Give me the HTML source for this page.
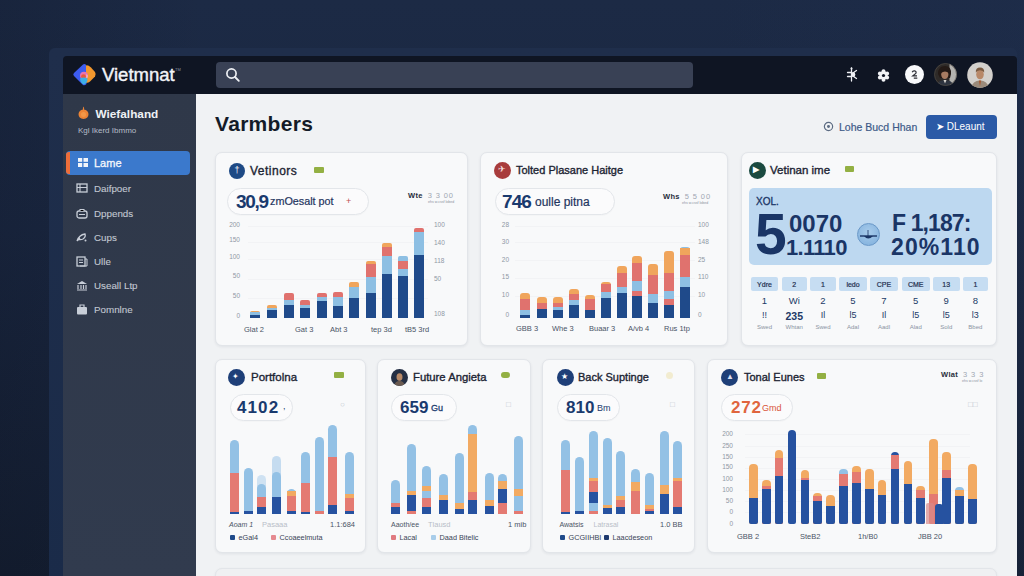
<!DOCTYPE html><html><head><meta charset="utf-8"><style>
*{margin:0;padding:0;box-sizing:border-box}
html,body{width:1024px;height:576px;overflow:hidden}
body{position:relative;font-family:"Liberation Sans",sans-serif;background:linear-gradient(180deg,#1c2a45 0%,#1a2741 40%,#141e31 100%)}
.a,.b,.t,.ic,.yl,.xl,.gl,.card,.pill{position:absolute}
.t{white-space:nowrap;line-height:1}
.card{background:#f8f9fa;border:1px solid #e2e5e9;border-radius:7px;box-shadow:0 1px 3px rgba(20,30,50,.07)}
.pill{border:1px solid #e3e6ea;border-radius:14px;background:#fbfbfc;box-shadow:0 1px 1px rgba(0,0,0,.02)}
.ic{border-radius:50%}
.yl{font-size:6.5px;color:#8f98a5;white-space:nowrap;line-height:1}
.xl{font-size:7.5px;color:#4a5466;white-space:nowrap;line-height:1}
.gl{height:1px;background:#f2f3f5}
.ttl{font-size:11.5px;color:#1c2433;-webkit-text-stroke:.35px #1c2433}
.sm{font-size:7.5px;color:#262d3a;font-weight:bold;letter-spacing:.3px}
.sm span{font-weight:normal;color:#a0a7b2;letter-spacing:.9px;margin-left:5px}
.sub{position:absolute;font-size:3.6px;color:#8a929e;white-space:nowrap;line-height:1}
</style></head><body>
<div class="a" style="left:0;top:0;width:1024px;height:576px;background:linear-gradient(90deg,rgba(10,15,28,.2) 0%,rgba(0,0,0,0) 20%,rgba(0,0,0,0) 70%,rgba(40,60,100,.12) 100%)"></div>
<div class="a" style="left:49px;top:48px;width:968px;height:540px;background:linear-gradient(180deg,#1f2e4b 0%,#1a2b49 100%);border-radius:6px 6px 0 0"></div>
<div class="a" style="left:63px;top:56px;width:954px;height:38px;background:#0f1523;border-radius:4px 4px 0 0"></div>
<div class="a" style="left:63px;top:94px;width:133px;height:482px;background:linear-gradient(180deg,#2f3849 0%,#313b4e 100%)"></div>
<div class="a" style="left:196px;top:94px;width:821px;height:482px;background:#f0f2f4"></div>
<svg class="a" style="left:68px;top:60px" width="32" height="30" viewBox="0 0 32 30">
<defs><filter id="bl" x="-20%" y="-20%" width="140%" height="140%"><feGaussianBlur stdDeviation=".5"/></filter></defs>
<g filter="url(#bl)">
<g transform="rotate(45 15 74.5) translate(0 0)"></g>
<path d="M15 4.5 Q16.5 3.5 18 4.8 L18.5 24 Q16.5 26 15 25 L6 16 Q4.5 14.5 6 13 Z" fill="#3d5cf0"/>
<path d="M18 5.5 Q20 4.8 23 7.5 L27 12 Q28.5 14.5 27 16.5 L22 21.5 Q19.5 23.5 18 22.5 Z" fill="#f3982e"/>
<ellipse cx="16" cy="15.5" rx="4" ry="3.8" fill="#e873b0"/>
<ellipse cx="15.5" cy="16.5" rx="2.4" ry="2.2" fill="#e85a3a"/>
<path d="M12 18.5 Q15.5 16.5 19.5 18.5 Q19.5 23 16 24.5 Q12.5 23.5 12 18.5Z" fill="#3cb0e6"/>
<path d="M18.5 14 Q20 15 19.5 17.5 L18.5 18Z" fill="#f5e0c8"/>
</g></svg>
<div class="t" style="left:102px;top:66px;font-size:18.5px;color:#f2f4f8;-webkit-text-stroke:.4px #f2f4f8">Vietmnat</div>
<div class="t" style="left:175px;top:68px;font-size:4px;color:#8a93a3">TM</div>
<div class="a" style="left:216px;top:62px;width:477px;height:26px;background:#394155;border-radius:4px"></div>
<svg class="a" style="left:225px;top:67px" width="16" height="16" viewBox="0 0 16 16"><circle cx="6.5" cy="6.5" r="4.6" fill="none" stroke="#eef0f4" stroke-width="1.7"/><path d="M10 10 L13.8 13.8" stroke="#eef0f4" stroke-width="1.9" stroke-linecap="round"/></svg>
<svg class="a" style="left:845px;top:67px" width="14" height="15" viewBox="0 0 14 15">
<path d="M6.5 1V14M2.5 5.5H6.5M2.5 9.5H6.5M6.5 7L11.5 3.5M6.5 8L11.5 11.5" stroke="#eef0f4" stroke-width="1.3" stroke-linecap="round"/>
<ellipse cx="8.3" cy="7.5" rx="2" ry="2.6" fill="#eef0f4"/><circle cx="6.5" cy="1.5" r="1" fill="#eef0f4"/></svg>
<svg class="a" style="left:876.5px;top:68.5px" width="13" height="13" viewBox="0 0 13 13"><g fill="#f2f3f6">
<circle cx="6.5" cy="6.5" r="4"/><circle cx="6.5" cy="2.3" r="2"/><circle cx="6.5" cy="10.7" r="2"/><circle cx="2.9" cy="4.4" r="2"/><circle cx="10.1" cy="4.4" r="2"/><circle cx="2.9" cy="8.6" r="2"/><circle cx="10.1" cy="8.6" r="2"/></g>
<circle cx="6.5" cy="6.5" r="1.6" fill="#0f1523"/></svg>
<div class="ic" style="left:905px;top:65px;width:19px;height:19px;background:#f8f9fb"></div>
<svg class="a" style="left:909px;top:69px" width="11" height="11" viewBox="0 0 11 11"><path d="M3.2 3.3Q3.8 1.6 5.6 1.9Q7.8 2.3 6.8 4.4L3.8 6.8H8M4.8 9.2H8.3" fill="none" stroke="#2a2d35" stroke-width="1.2"/></svg>
<svg class="a" style="left:934px;top:63px" width="23" height="23" viewBox="0 0 23 23">
<defs><clipPath id="c1"><circle cx="11.5" cy="11.5" r="11.2"/></clipPath></defs>
<g clip-path="url(#c1)"><rect width="23" height="23" fill="#2e2a28"/><rect x="15.5" width="8" height="23" fill="#b4b3b0"/>
<path d="M4 11 Q4 3 11 3 Q17.5 3 17 11 L16 15 L6 15 Z" fill="#241a16"/>
<ellipse cx="10.8" cy="11.5" rx="3.6" ry="4.6" fill="#a87c62"/>
<path d="M6.5 9 Q8.5 4.5 15 7.5 L15 10 Q11 7 7 10 Z" fill="#241a16"/>
<path d="M2 23 Q4 17 11 17 Q18 17 20 23 Z" fill="#2e3440"/><path d="M9.5 17 L11 20.5 L12.5 17Z" fill="#d8d4cf"/></g>
<circle cx="11.5" cy="11.5" r="11" fill="none" stroke="#55504b" stroke-width=".6"/></svg>
<svg class="a" style="left:967px;top:62px" width="26" height="26" viewBox="0 0 26 26">
<defs><clipPath id="c2"><circle cx="13" cy="13" r="12.8"/></clipPath></defs>
<g clip-path="url(#c2)"><rect width="26" height="26" fill="#d3d0cc"/>
<ellipse cx="13" cy="12.5" rx="3.8" ry="4.8" fill="#b88868"/>
<path d="M8.8 10.5 Q8.5 5.5 13 5.5 Q17.5 5.5 17.2 10.5 Q16 8.5 13 8.3 Q10 8.5 8.8 10.5Z" fill="#7a5a40"/>
<path d="M4 26 Q5.5 18.8 13 18.5 Q20.5 18.8 22 26 Z" fill="#9a8a7a"/><path d="M11.8 18.5 L13 24 L14.2 18.5Z" fill="#a85a30"/></g></svg>
<svg class="a" style="left:77px;top:105px" width="13" height="15" viewBox="0 0 13 15"><path d="M6.5 1.5 Q7.5 3 7 4.5 Q11 5 11.5 9 Q11.5 13.5 6.5 14 Q1.5 13.5 1.5 9 Q2 5 6 4.5 Q5.5 3 6.5 1.5Z" fill="#ec8436"/><circle cx="6.5" cy="9.5" r="2.5" fill="#f5a050" opacity=".7"/></svg>
<div class="t" style="left:95.5px;top:109px;font-size:11.8px;font-weight:bold;color:#eef1f5">Wiefalhand</div>
<div class="t" style="left:78px;top:127px;font-size:8px;color:#b4bcc8">Kgl Ikerd Ibmmo</div>
<div class="a" style="left:66px;top:151px;width:124px;height:24px;background:#3b79cc;border-radius:4px"></div>
<div class="a" style="left:66px;top:152px;width:4px;height:22px;background:#ee6e3a;border-radius:3px 0 0 3px"></div>
<svg class="a" style="left:78px;top:158px" width="10" height="9" viewBox="0 0 10 9"><rect x="0" y="0" width="4.2" height="3.8" fill="#f2f5fa"/><rect x="5.5" y="0" width="4.5" height="3.8" fill="#f2f5fa"/><rect x="0" y="5" width="4.2" height="4" fill="#f2f5fa"/><rect x="5.5" y="5" width="4.5" height="4" fill="#f2f5fa"/></svg>
<div class="t" style="left:94px;top:158px;font-size:11px;color:#f5f8fc;-webkit-text-stroke:.3px #f5f8fc">Lame</div>
<svg class="a" style="left:76px;top:183px" width="12" height="11" viewBox="0 0 12 11"><rect x="1" y="1" width="10" height="8" fill="none" stroke="#c8ced8" stroke-width="1.3"/><path d="M1 4.5H11M4 1V9" stroke="#c8ced8" stroke-width="1.1"/></svg>
<div class="t" style="left:94px;top:183.5px;font-size:9.8px;color:#c2c8d2;-webkit-text-stroke:.1px #c2c8d2">Daifpoer</div>
<svg class="a" style="left:76px;top:208px" width="12" height="11" viewBox="0 0 12 11"><rect x="1" y="3" width="10" height="7" rx="2" fill="none" stroke="#c8ced8" stroke-width="1.3"/><path d="M4 3V1.5H8V3M3 6.5H9" stroke="#c8ced8" stroke-width="1.1"/></svg>
<div class="t" style="left:94px;top:208.5px;font-size:9.8px;color:#c2c8d2;-webkit-text-stroke:.1px #c2c8d2">Dppends</div>
<svg class="a" style="left:76px;top:232px" width="12" height="11" viewBox="0 0 12 11"><path d="M1 9 Q3 3 9 2 Q10 5 7 7 Q5 8 3 7.5M1 9 L4 6" fill="none" stroke="#c8ced8" stroke-width="1.3"/><circle cx="9.5" cy="8.5" r="1" fill="#c8ced8"/></svg>
<div class="t" style="left:94px;top:232.5px;font-size:9.8px;color:#c2c8d2;-webkit-text-stroke:.1px #c2c8d2">Cups</div>
<svg class="a" style="left:76px;top:256px" width="12" height="11" viewBox="0 0 12 11"><rect x="1" y="1" width="8" height="9" fill="none" stroke="#c8ced8" stroke-width="1.3"/><path d="M3 4H7M3 6.5H7M9 3H11V10H4" fill="none" stroke="#c8ced8" stroke-width="1"/></svg>
<div class="t" style="left:94px;top:256.5px;font-size:9.8px;color:#c2c8d2;-webkit-text-stroke:.1px #c2c8d2">Ulle</div>
<svg class="a" style="left:76px;top:280px" width="12" height="11" viewBox="0 0 12 11"><path d="M1 4 L6 1 L11 4 Z" fill="#c8ced8"/><path d="M2 5V9M5 5V9M7.5 5V9M10 5V9M1 10H11" stroke="#c8ced8" stroke-width="1.2"/></svg>
<div class="t" style="left:94px;top:280.5px;font-size:9.8px;color:#c2c8d2;-webkit-text-stroke:.1px #c2c8d2">Useall Ltp</div>
<svg class="a" style="left:76px;top:304px" width="12" height="11" viewBox="0 0 12 11"><rect x="1" y="3" width="10" height="7.5" rx="1" fill="#c8ced8"/><path d="M4 3V1H8V3" fill="none" stroke="#c8ced8" stroke-width="1.2"/></svg>
<div class="t" style="left:94px;top:304.5px;font-size:9.8px;color:#c2c8d2;-webkit-text-stroke:.1px #c2c8d2">Pomnlne</div>
<div class="t" style="left:215px;top:113px;font-size:21px;font-weight:bold;color:#141b28;letter-spacing:.3px">Varmbers</div>
<svg class="a" style="left:823px;top:121px" width="11" height="11" viewBox="0 0 12 12"><circle cx="6" cy="6" r="4.5" fill="none" stroke="#5b6b82" stroke-width="1.3"/><circle cx="6" cy="6" r="1.6" fill="#5b6b82"/></svg>
<div class="t" style="left:839px;top:122px;font-size:10.5px;color:#3d5a88;-webkit-text-stroke:.2px #3d5a88">Lohe Bucd Hhan</div>
<div class="a" style="left:926px;top:115px;width:71px;height:24px;background:#2b5aa6;border-radius:4px"></div>
<div class="t" style="left:936px;top:122px;font-size:10px;color:#fff">&#x27a4; DLeaunt</div>
<div class="card" style="left:214.75px;top:151.7px;width:252.75px;height:194px"></div>
<div class="ic" style="left:229px;top:163px;width:16px;height:16px;background:#1e4a85"></div>
<div class="t" style="left:234.5px;top:166px;font-size:9px;color:#fff">&#x2020;</div>
<div class="t ttl" style="left:250px;top:165px;font-size:12px;letter-spacing:.5px">Vetinors</div>
<div class="a" style="left:314px;top:167px;width:10px;height:6px;background:#93b043;border-radius:1px"></div>
<div class="pill" style="left:227px;top:188px;width:142px;height:27px"></div>
<div class="t" style="left:236px;top:191.5px;font-size:19px;font-weight:bold;color:#1a3a6e;letter-spacing:-1.3px">30,9</div>
<div class="t" style="left:270px;top:196px;font-size:10.8px;color:#1f3560;-webkit-text-stroke:.2px #1f3560">zmOesalt pot</div>
<div class="t" style="left:346px;top:197px;font-size:9px;color:#c05050">+</div>
<div class="t sm" style="left:408px;top:192px">Wte<span>3 3 00</span></div>
<div class="sub" style="left:428px;top:200.5px">ehs w.cssf lobed</div>
<div class="gl" style="left:248px;top:226px;width:180px"></div>
<div class="gl" style="left:248px;top:242px;width:180px"></div>
<div class="gl" style="left:248px;top:259px;width:180px"></div>
<div class="gl" style="left:248px;top:279px;width:180px"></div>
<div class="gl" style="left:248px;top:298px;width:180px"></div>
<div class="yl" style="left:226px;width:14px;text-align:right;top:222px">200</div>
<div class="yl" style="left:226px;width:14px;text-align:right;top:237px">150</div>
<div class="yl" style="left:226px;width:14px;text-align:right;top:254px">100</div>
<div class="yl" style="left:226px;width:14px;text-align:right;top:273px">50</div>
<div class="yl" style="left:226px;width:14px;text-align:right;top:292.5px">50</div>
<div class="yl" style="left:226px;width:14px;text-align:right;top:313px">0</div>
<div class="yl" style="left:434px;top:222px">100</div>
<div class="yl" style="left:434px;top:240px">140</div>
<div class="yl" style="left:434px;top:258px">118</div>
<div class="yl" style="left:434px;top:276px">50</div>
<div class="yl" style="left:434px;top:311px">108</div>
<div class="b" style="left:250px;bottom:258.0px;width:10px;height:7.5px;background:#f0a55c;border-radius:2px 2px 0px 0px;"></div><div class="b" style="left:250px;bottom:258.0px;width:10px;height:6.5px;background:#8dbfe3;border-radius:0 0 0px 0px;"></div><div class="b" style="left:250px;bottom:258.0px;width:10px;height:3.0px;background:#1f4a8a;border-radius:0 0 0px 0px;"></div>
<div class="b" style="left:267px;bottom:258.0px;width:10px;height:13.5px;background:#f0a55c;border-radius:2px 2px 0px 0px;"></div><div class="b" style="left:267px;bottom:258.0px;width:10px;height:10.5px;background:#8dbfe3;border-radius:0 0 0px 0px;"></div><div class="b" style="left:267px;bottom:258.0px;width:10px;height:8.5px;background:#1f4a8a;border-radius:0 0 0px 0px;"></div>
<div class="b" style="left:283.5px;bottom:258.0px;width:10px;height:25.0px;background:#e0726e;border-radius:2px 2px 0px 0px;"></div><div class="b" style="left:283.5px;bottom:258.0px;width:10px;height:18.5px;background:#8dbfe3;border-radius:0 0 0px 0px;"></div><div class="b" style="left:283.5px;bottom:258.0px;width:10px;height:13.0px;background:#1f4a8a;border-radius:0 0 0px 0px;"></div>
<div class="b" style="left:300px;bottom:258.0px;width:10px;height:18.0px;background:#e0726e;border-radius:2px 2px 0px 0px;"></div><div class="b" style="left:300px;bottom:258.0px;width:10px;height:13.5px;background:#8dbfe3;border-radius:0 0 0px 0px;"></div><div class="b" style="left:300px;bottom:258.0px;width:10px;height:10.0px;background:#1f4a8a;border-radius:0 0 0px 0px;"></div>
<div class="b" style="left:316.5px;bottom:258.0px;width:10px;height:25.5px;background:#e0726e;border-radius:2px 2px 0px 0px;"></div><div class="b" style="left:316.5px;bottom:258.0px;width:10px;height:21.0px;background:#8dbfe3;border-radius:0 0 0px 0px;"></div><div class="b" style="left:316.5px;bottom:258.0px;width:10px;height:17.0px;background:#1f4a8a;border-radius:0 0 0px 0px;"></div>
<div class="b" style="left:333px;bottom:258.0px;width:10px;height:26.5px;background:#e0726e;border-radius:2px 2px 0px 0px;"></div><div class="b" style="left:333px;bottom:258.0px;width:10px;height:21.0px;background:#8dbfe3;border-radius:0 0 0px 0px;"></div><div class="b" style="left:333px;bottom:258.0px;width:10px;height:12.5px;background:#1f4a8a;border-radius:0 0 0px 0px;"></div>
<div class="b" style="left:349px;bottom:258.0px;width:10px;height:36.5px;background:#f0a55c;border-radius:2px 2px 0px 0px;"></div><div class="b" style="left:349px;bottom:258.0px;width:10px;height:31.0px;background:#8dbfe3;border-radius:0 0 0px 0px;"></div><div class="b" style="left:349px;bottom:258.0px;width:10px;height:20.5px;background:#1f4a8a;border-radius:0 0 0px 0px;"></div>
<div class="b" style="left:365.5px;bottom:258.0px;width:10px;height:57.0px;background:#f0a55c;border-radius:2px 2px 0px 0px;"></div><div class="b" style="left:365.5px;bottom:258.0px;width:10px;height:54.2px;background:#e0726e;border-radius:0 0 0px 0px;"></div><div class="b" style="left:365.5px;bottom:258.0px;width:10px;height:41.0px;background:#8dbfe3;border-radius:0 0 0px 0px;"></div><div class="b" style="left:365.5px;bottom:258.0px;width:10px;height:25.0px;background:#1f4a8a;border-radius:0 0 0px 0px;"></div>
<div class="b" style="left:381.5px;bottom:258.0px;width:10px;height:75.5px;background:#f0a55c;border-radius:2px 2px 0px 0px;"></div><div class="b" style="left:381.5px;bottom:258.0px;width:10px;height:71.0px;background:#e0726e;border-radius:0 0 0px 0px;"></div><div class="b" style="left:381.5px;bottom:258.0px;width:10px;height:62.5px;background:#8dbfe3;border-radius:0 0 0px 0px;"></div><div class="b" style="left:381.5px;bottom:258.0px;width:10px;height:44.2px;background:#1f4a8a;border-radius:0 0 0px 0px;"></div>
<div class="b" style="left:397.75px;bottom:258.0px;width:10px;height:62.2px;background:#8dbfe3;border-radius:2px 2px 0px 0px;"></div><div class="b" style="left:397.75px;bottom:258.0px;width:10px;height:57.0px;background:#e0726e;border-radius:0 0 0px 0px;"></div><div class="b" style="left:397.75px;bottom:258.0px;width:10px;height:49.2px;background:#8dbfe3;border-radius:0 0 0px 0px;"></div><div class="b" style="left:397.75px;bottom:258.0px;width:10px;height:42.0px;background:#1f4a8a;border-radius:0 0 0px 0px;"></div>
<div class="b" style="left:414px;bottom:258.0px;width:10px;height:90.0px;background:#e0726e;border-radius:2px 2px 0px 0px;"></div><div class="b" style="left:414px;bottom:258.0px;width:10px;height:86.0px;background:#8dbfe3;border-radius:0 0 0px 0px;"></div><div class="b" style="left:414px;bottom:258.0px;width:10px;height:63.0px;background:#1f4a8a;border-radius:0 0 0px 0px;"></div>
<div class="xl" style="left:244px;top:326px">Glat 2</div>
<div class="xl" style="left:295px;top:326px">Gat 3</div>
<div class="xl" style="left:330px;top:326px">Abt 3</div>
<div class="xl" style="left:371px;top:326px">tep 3d</div>
<div class="xl" style="left:405px;top:326px">tB5 3rd</div>
<div class="card" style="left:480.3px;top:152px;width:247.7px;height:194px"></div>
<div class="ic" style="left:494px;top:162px;width:17px;height:17px;background:#a83c3c"></div>
<div class="t" style="left:498px;top:165px;font-size:9px;color:#f4dede">&#x2708;</div>
<div class="t ttl" style="left:516px;top:165px;font-size:11px">Tolted Plasane Haitge</div>
<div class="pill" style="left:495px;top:188px;width:120px;height:27px"></div>
<div class="t" style="left:502px;top:192px;font-size:19px;font-weight:bold;color:#1a3a6e;letter-spacing:-.9px">746</div>
<div class="t" style="left:535px;top:196px;font-size:12px;color:#1f3560;-webkit-text-stroke:.2px #1f3560">oulle pitna</div>
<div class="t sm" style="left:663px;top:193px">Whs<span>5 5 00</span></div>
<div class="sub" style="left:682px;top:201.5px">ehs w.cssf lobed</div>
<div class="gl" style="left:515px;top:226px;width:180px"></div>
<div class="gl" style="left:515px;top:242px;width:180px"></div>
<div class="gl" style="left:515px;top:260px;width:180px"></div>
<div class="gl" style="left:515px;top:278px;width:180px"></div>
<div class="gl" style="left:515px;top:296px;width:180px"></div>
<div class="yl" style="left:495px;width:14px;text-align:right;top:222px">28</div>
<div class="yl" style="left:495px;width:14px;text-align:right;top:239px">30</div>
<div class="yl" style="left:495px;width:14px;text-align:right;top:256.5px">20</div>
<div class="yl" style="left:495px;width:14px;text-align:right;top:274px">15</div>
<div class="yl" style="left:495px;width:14px;text-align:right;top:292px">10</div>
<div class="yl" style="left:495px;width:14px;text-align:right;top:312px">0</div>
<div class="yl" style="left:698px;top:222px">100</div>
<div class="yl" style="left:698px;top:239px">148</div>
<div class="yl" style="left:698px;top:256.5px">25</div>
<div class="yl" style="left:698px;top:274px">110</div>
<div class="yl" style="left:698px;top:292px">10</div>
<div class="yl" style="left:698px;top:312px">0</div>
<div class="b" style="left:520px;bottom:258.5px;width:10px;height:24.9px;background:#f0a55c;border-radius:3px 3px 0px 0px;"></div><div class="b" style="left:520px;bottom:258.5px;width:10px;height:18.8px;background:#e0726e;border-radius:0 0 0px 0px;"></div><div class="b" style="left:520px;bottom:258.5px;width:10px;height:7.1px;background:#8dbfe3;border-radius:0 0 0px 0px;"></div><div class="b" style="left:520px;bottom:258.5px;width:10px;height:2.5px;background:#1f4a8a;border-radius:0 0 0px 0px;"></div>
<div class="b" style="left:536.5px;bottom:258.5px;width:10px;height:20.3px;background:#f0a55c;border-radius:3px 3px 0px 0px;"></div><div class="b" style="left:536.5px;bottom:258.5px;width:10px;height:14.2px;background:#e0726e;border-radius:0 0 0px 0px;"></div><div class="b" style="left:536.5px;bottom:258.5px;width:10px;height:8.9px;background:#1f4a8a;border-radius:0 0 0px 0px;"></div>
<div class="b" style="left:552.8px;bottom:258.5px;width:10px;height:20.3px;background:#f0a55c;border-radius:3px 3px 0px 0px;"></div><div class="b" style="left:552.8px;bottom:258.5px;width:10px;height:14.2px;background:#e0726e;border-radius:0 0 0px 0px;"></div><div class="b" style="left:552.8px;bottom:258.5px;width:10px;height:10.7px;background:#8dbfe3;border-radius:0 0 0px 0px;"></div><div class="b" style="left:552.8px;bottom:258.5px;width:10px;height:7.1px;background:#1f4a8a;border-radius:0 0 0px 0px;"></div>
<div class="b" style="left:569.2px;bottom:258.5px;width:10px;height:28.4px;background:#f0a55c;border-radius:3px 3px 0px 0px;"></div><div class="b" style="left:569.2px;bottom:258.5px;width:10px;height:23.1px;background:#e0726e;border-radius:0 0 0px 0px;"></div><div class="b" style="left:569.2px;bottom:258.5px;width:10px;height:17.8px;background:#8dbfe3;border-radius:0 0 0px 0px;"></div><div class="b" style="left:569.2px;bottom:258.5px;width:10px;height:12.4px;background:#1f4a8a;border-radius:0 0 0px 0px;"></div>
<div class="b" style="left:584.8px;bottom:258.5px;width:10px;height:22.4px;background:#f0a55c;border-radius:3px 3px 0px 0px;"></div><div class="b" style="left:584.8px;bottom:258.5px;width:10px;height:18.8px;background:#e0726e;border-radius:0 0 0px 0px;"></div><div class="b" style="left:584.8px;bottom:258.5px;width:10px;height:7.8px;background:#1f4a8a;border-radius:0 0 0px 0px;"></div>
<div class="b" style="left:600.5px;bottom:258.5px;width:10px;height:35.6px;background:#f0a55c;border-radius:3px 3px 0px 0px;"></div><div class="b" style="left:600.5px;bottom:258.5px;width:10px;height:33.1px;background:#e0726e;border-radius:0 0 0px 0px;"></div><div class="b" style="left:600.5px;bottom:258.5px;width:10px;height:26.0px;background:#8dbfe3;border-radius:0 0 0px 0px;"></div><div class="b" style="left:600.5px;bottom:258.5px;width:10px;height:19.6px;background:#1f4a8a;border-radius:0 0 0px 0px;"></div>
<div class="b" style="left:616.5px;bottom:258.5px;width:10px;height:51.6px;background:#f0a55c;border-radius:3px 3px 0px 0px;"></div><div class="b" style="left:616.5px;bottom:258.5px;width:10px;height:44.5px;background:#e0726e;border-radius:0 0 0px 0px;"></div><div class="b" style="left:616.5px;bottom:258.5px;width:10px;height:30.9px;background:#8dbfe3;border-radius:0 0 0px 0px;"></div><div class="b" style="left:616.5px;bottom:258.5px;width:10px;height:24.9px;background:#1f4a8a;border-radius:0 0 0px 0px;"></div>
<div class="b" style="left:631.8px;bottom:258.5px;width:10px;height:61.5px;background:#f0a55c;border-radius:3px 3px 0px 0px;"></div><div class="b" style="left:631.8px;bottom:258.5px;width:10px;height:54.1px;background:#e0726e;border-radius:0 0 0px 0px;"></div><div class="b" style="left:631.8px;bottom:258.5px;width:10px;height:36.6px;background:#8dbfe3;border-radius:0 0 0px 0px;"></div><div class="b" style="left:631.8px;bottom:258.5px;width:10px;height:26.7px;background:#e0726e;border-radius:0 0 0px 0px;"></div><div class="b" style="left:631.8px;bottom:258.5px;width:10px;height:21.3px;background:#1f4a8a;border-radius:0 0 0px 0px;"></div>
<div class="b" style="left:647.8px;bottom:258.5px;width:10px;height:53.3px;background:#f0a55c;border-radius:3px 3px 0px 0px;"></div><div class="b" style="left:647.8px;bottom:258.5px;width:10px;height:42.7px;background:#e0726e;border-radius:0 0 0px 0px;"></div><div class="b" style="left:647.8px;bottom:258.5px;width:10px;height:23.1px;background:#8dbfe3;border-radius:0 0 0px 0px;"></div><div class="b" style="left:647.8px;bottom:258.5px;width:10px;height:14.9px;background:#1f4a8a;border-radius:0 0 0px 0px;"></div>
<div class="b" style="left:663.8px;bottom:258.5px;width:10px;height:66.5px;background:#f0a55c;border-radius:3px 3px 0px 0px;"></div><div class="b" style="left:663.8px;bottom:258.5px;width:10px;height:44.5px;background:#e0726e;border-radius:0 0 0px 0px;"></div><div class="b" style="left:663.8px;bottom:258.5px;width:10px;height:26.7px;background:#8dbfe3;border-radius:0 0 0px 0px;"></div><div class="b" style="left:663.8px;bottom:258.5px;width:10px;height:18.8px;background:#e0726e;border-radius:0 0 0px 0px;"></div><div class="b" style="left:663.8px;bottom:258.5px;width:10px;height:12.4px;background:#1f4a8a;border-radius:0 0 0px 0px;"></div>
<div class="b" style="left:679.8px;bottom:258.5px;width:10px;height:70.8px;background:#8dbfe3;border-radius:3px 3px 0px 0px;"></div><div class="b" style="left:679.8px;bottom:258.5px;width:10px;height:69.4px;background:#f0a55c;border-radius:0 0 0px 0px;"></div><div class="b" style="left:679.8px;bottom:258.5px;width:10px;height:62.2px;background:#e0726e;border-radius:0 0 0px 0px;"></div><div class="b" style="left:679.8px;bottom:258.5px;width:10px;height:40.9px;background:#8dbfe3;border-radius:0 0 0px 0px;"></div><div class="b" style="left:679.8px;bottom:258.5px;width:10px;height:30.2px;background:#1f4a8a;border-radius:0 0 0px 0px;"></div>
<div class="xl" style="left:516px;top:325px">GBB 3</div>
<div class="xl" style="left:552px;top:325px">Whe 3</div>
<div class="xl" style="left:589px;top:325px">Buaar 3</div>
<div class="xl" style="left:628px;top:325px">A/vb 4</div>
<div class="xl" style="left:664px;top:325px">Rus 1tp</div>
<div class="card" style="left:741.3px;top:152px;width:256.2px;height:194px"></div>
<div class="ic" style="left:749px;top:162px;width:17px;height:17px;background:#1b4a40"></div>
<div class="t" style="left:753px;top:166px;font-size:8px;color:#fff;font-weight:bold">&#x25B6;</div>
<div class="t ttl" style="left:770px;top:165px;font-size:11.5px">Vetinan ime</div>
<div class="a" style="left:845px;top:166px;width:9px;height:6px;background:#93b043;border-radius:1px"></div>
<div class="a" style="left:749px;top:188px;width:243px;height:77px;background:#bdd8f0;border-radius:5px"></div>
<div class="t" style="left:756px;top:197px;font-size:10px;color:#1a3566;-webkit-text-stroke:.3px #1a3566">XOL.</div>
<div class="t" style="left:755px;top:206px;font-size:57px;font-weight:bold;color:#1a3566">5</div>
<div class="t" style="left:789px;top:212px;font-size:24px;font-weight:bold;color:#1a3566">0070</div>
<div class="t" style="left:786px;top:236.5px;font-size:22px;font-weight:bold;color:#1a3566;letter-spacing:-.7px">1.1110</div>
<div class="ic" style="left:857px;top:223px;width:23px;height:23px;background:radial-gradient(circle at 50% 40%,#a8ccec,#7eaedb);border:1px solid #6a98c8"></div>
<svg class="a" style="left:859px;top:228px" width="19" height="14" viewBox="0 0 19 14"><path d="M1 8 H18" stroke="#1a3566" stroke-width="1.4"/><path d="M5 8 Q9 13 14 8" fill="#1a3566"/><path d="M9 2 V8" stroke="#1a3566" stroke-width=".8"/></svg>
<div class="t" style="left:892px;top:212px;font-size:23px;font-weight:bold;color:#1a3566;letter-spacing:-.9px">F 1,187:</div>
<div class="t" style="left:891px;top:236px;font-size:23px;font-weight:bold;color:#1a3566;letter-spacing:1.1px">20%110</div>
<div class="a" style="left:751px;top:277px;width:27px;height:14px;background:#c6ddf2;border-radius:2px"></div>
<div class="t" style="left:751px;width:27px;text-align:center;top:281px;font-size:7px;color:#1f2f50;-webkit-text-stroke:.2px #1f2f50">Ydre</div>
<div class="a" style="left:781.5px;top:277px;width:25.5px;height:14px;background:#c6ddf2;border-radius:2px"></div>
<div class="t" style="left:781.5px;width:25.5px;text-align:center;top:281px;font-size:7px;color:#1f2f50;-webkit-text-stroke:.2px #1f2f50">2</div>
<div class="a" style="left:810px;top:277px;width:26px;height:14px;background:#c6ddf2;border-radius:2px"></div>
<div class="t" style="left:810px;width:26px;text-align:center;top:281px;font-size:7px;color:#1f2f50;-webkit-text-stroke:.2px #1f2f50">1</div>
<div class="a" style="left:839px;top:277px;width:28px;height:14px;background:#c6ddf2;border-radius:2px"></div>
<div class="t" style="left:839px;width:28px;text-align:center;top:281px;font-size:7px;color:#1f2f50;-webkit-text-stroke:.2px #1f2f50">ledo</div>
<div class="a" style="left:870px;top:277px;width:28px;height:14px;background:#c6ddf2;border-radius:2px"></div>
<div class="t" style="left:870px;width:28px;text-align:center;top:281px;font-size:7px;color:#1f2f50;-webkit-text-stroke:.2px #1f2f50">CPE</div>
<div class="a" style="left:901.5px;top:277px;width:28.5px;height:14px;background:#c6ddf2;border-radius:2px"></div>
<div class="t" style="left:901.5px;width:28.5px;text-align:center;top:281px;font-size:7px;color:#1f2f50;-webkit-text-stroke:.2px #1f2f50">CME</div>
<div class="a" style="left:933px;top:277px;width:26.5px;height:14px;background:#c6ddf2;border-radius:2px"></div>
<div class="t" style="left:933px;width:26.5px;text-align:center;top:281px;font-size:7px;color:#1f2f50;-webkit-text-stroke:.2px #1f2f50">13</div>
<div class="a" style="left:962.7px;top:277px;width:25.299999999999955px;height:14px;background:#c6ddf2;border-radius:2px"></div>
<div class="t" style="left:962.7px;width:25.299999999999955px;text-align:center;top:281px;font-size:7px;color:#1f2f50;-webkit-text-stroke:.2px #1f2f50">1</div>
<div class="t" style="left:749.5px;width:30px;text-align:center;top:296px;font-size:9.5px;color:#223a66">1</div>
<div class="t" style="left:749.5px;width:30px;text-align:center;top:311px;font-size:9px;color:#223a66;">!!</div>
<div class="t" style="left:749.5px;width:30px;text-align:center;top:324px;font-size:6px;color:#8a94a3">Swed</div>
<div class="t" style="left:779.25px;width:30px;text-align:center;top:296px;font-size:9.5px;color:#223a66">Wi</div>
<div class="t" style="left:779.25px;width:30px;text-align:center;top:311px;font-size:10.5px;color:#223a66;font-weight:bold">235</div>
<div class="t" style="left:779.25px;width:30px;text-align:center;top:324px;font-size:6px;color:#8a94a3">Whtan</div>
<div class="t" style="left:808.0px;width:30px;text-align:center;top:296px;font-size:9.5px;color:#223a66">2</div>
<div class="t" style="left:808.0px;width:30px;text-align:center;top:311px;font-size:9px;color:#223a66;">Il</div>
<div class="t" style="left:808.0px;width:30px;text-align:center;top:324px;font-size:6px;color:#8a94a3">Swed</div>
<div class="t" style="left:838.0px;width:30px;text-align:center;top:296px;font-size:9.5px;color:#223a66">5</div>
<div class="t" style="left:838.0px;width:30px;text-align:center;top:311px;font-size:9px;color:#223a66;">l5</div>
<div class="t" style="left:838.0px;width:30px;text-align:center;top:324px;font-size:6px;color:#8a94a3">Adal</div>
<div class="t" style="left:869.0px;width:30px;text-align:center;top:296px;font-size:9.5px;color:#223a66">7</div>
<div class="t" style="left:869.0px;width:30px;text-align:center;top:311px;font-size:9px;color:#223a66;">Il</div>
<div class="t" style="left:869.0px;width:30px;text-align:center;top:324px;font-size:6px;color:#8a94a3">Aadl</div>
<div class="t" style="left:900.75px;width:30px;text-align:center;top:296px;font-size:9.5px;color:#223a66">5</div>
<div class="t" style="left:900.75px;width:30px;text-align:center;top:311px;font-size:9px;color:#223a66;">l5</div>
<div class="t" style="left:900.75px;width:30px;text-align:center;top:324px;font-size:6px;color:#8a94a3">Alad</div>
<div class="t" style="left:931.25px;width:30px;text-align:center;top:296px;font-size:9.5px;color:#223a66">9</div>
<div class="t" style="left:931.25px;width:30px;text-align:center;top:311px;font-size:9px;color:#223a66;">l5</div>
<div class="t" style="left:931.25px;width:30px;text-align:center;top:324px;font-size:6px;color:#8a94a3">Sold</div>
<div class="t" style="left:960.35px;width:30px;text-align:center;top:296px;font-size:9.5px;color:#223a66">8</div>
<div class="t" style="left:960.35px;width:30px;text-align:center;top:311px;font-size:9px;color:#223a66;">l3</div>
<div class="t" style="left:960.35px;width:30px;text-align:center;top:324px;font-size:6px;color:#8a94a3">Bbed</div>
<div class="card" style="left:214.5px;top:358.5px;width:151px;height:194.5px"></div>
<div class="ic" style="left:228px;top:369px;width:17px;height:17px;background:#1e3f78"></div>
<div class="t" style="left:232px;top:373px;font-size:8px;color:#fff">&#x2726;</div>
<div class="t ttl" style="left:251px;top:372px;font-size:11.5px">Portfolna</div>
<div class="a" style="left:334px;top:372px;width:10px;height:6px;background:#93b043;border-radius:1px"></div>
<div class="pill" style="left:230px;top:394px;width:63px;height:27px"></div>
<div class="t" style="left:237px;top:399px;font-size:17px;font-weight:bold;color:#1a3a6e;letter-spacing:1.1px">4102</div>
<div class="t" style="left:283px;top:402px;font-size:9px;color:#1a3a6e">,</div>
<div class="t" style="left:340px;top:401px;font-size:8px;color:#c0c6ce">&#x25cb;</div>
<div class="b" style="left:257.4px;bottom:62.0px;width:9px;height:39.0px;background:#cfe2f2;border-radius:4.5px 4.5px 0px 0px;"></div>
<div class="b" style="left:272px;bottom:62.0px;width:9px;height:58.0px;background:#c5dcf0;border-radius:4.5px 4.5px 0px 0px;"></div>
<div class="b" style="left:230px;bottom:62.0px;width:9px;height:73.9px;background:#93c1e5;border-radius:4.5px 4.5px 0px 0px;"></div><div class="b" style="left:230px;bottom:62.0px;width:9px;height:40.7px;background:#e47a72;border-radius:0 0 0px 0px;"></div><div class="b" style="left:230px;bottom:62.0px;width:9px;height:1.7px;background:#2652a0;border-radius:0 0 0px 0px;"></div>
<div class="b" style="left:243.6px;bottom:62.0px;width:9px;height:46.2px;background:#93c1e5;border-radius:4.5px 4.5px 0px 0px;"></div><div class="b" style="left:243.6px;bottom:62.0px;width:9px;height:3.5px;background:#2652a0;border-radius:0 0 0px 0px;"></div>
<div class="b" style="left:257.4px;bottom:62.0px;width:9px;height:29.7px;background:#93c1e5;border-radius:4.5px 4.5px 0px 0px;"></div><div class="b" style="left:257.4px;bottom:62.0px;width:9px;height:17.0px;background:#e47a72;border-radius:0 0 0px 0px;"></div><div class="b" style="left:257.4px;bottom:62.0px;width:9px;height:7.1px;background:#2652a0;border-radius:0 0 0px 0px;"></div>
<div class="b" style="left:272px;bottom:62.0px;width:9px;height:41.8px;background:#93c1e5;border-radius:4.5px 4.5px 0px 0px;"></div><div class="b" style="left:272px;bottom:62.0px;width:9px;height:17.0px;background:#2652a0;border-radius:0 0 0px 0px;"></div>
<div class="b" style="left:286.6px;bottom:62.0px;width:9px;height:25.4px;background:#93c1e5;border-radius:4.5px 4.5px 0px 0px;"></div><div class="b" style="left:286.6px;bottom:62.0px;width:9px;height:23.5px;background:#f2aa62;border-radius:0 0 0px 0px;"></div><div class="b" style="left:286.6px;bottom:62.0px;width:9px;height:18.1px;background:#e47a72;border-radius:0 0 0px 0px;"></div><div class="b" style="left:286.6px;bottom:62.0px;width:9px;height:3.5px;background:#2652a0;border-radius:0 0 0px 0px;"></div>
<div class="b" style="left:300.5px;bottom:62.0px;width:9px;height:61.8px;background:#93c1e5;border-radius:4.5px 4.5px 0px 0px;"></div><div class="b" style="left:300.5px;bottom:62.0px;width:9px;height:30.8px;background:#e47a72;border-radius:0 0 0px 0px;"></div><div class="b" style="left:300.5px;bottom:62.0px;width:9px;height:1.7px;background:#2652a0;border-radius:0 0 0px 0px;"></div>
<div class="b" style="left:314.7px;bottom:62.0px;width:9px;height:77.5px;background:#93c1e5;border-radius:4.5px 4.5px 0px 0px;"></div><div class="b" style="left:314.7px;bottom:62.0px;width:9px;height:3.5px;background:#e47a72;border-radius:0 0 0px 0px;"></div>
<div class="b" style="left:327.5px;bottom:62.0px;width:9px;height:89.2px;background:#93c1e5;border-radius:4.5px 4.5px 0px 0px;"></div><div class="b" style="left:327.5px;bottom:62.0px;width:9px;height:57.5px;background:#e47a72;border-radius:0 0 0px 0px;"></div><div class="b" style="left:327.5px;bottom:62.0px;width:9px;height:8.9px;background:#2652a0;border-radius:0 0 0px 0px;"></div>
<div class="b" style="left:345px;bottom:62.0px;width:9px;height:61.8px;background:#93c1e5;border-radius:4.5px 4.5px 0px 0px;"></div><div class="b" style="left:345px;bottom:62.0px;width:9px;height:19.9px;background:#f2aa62;border-radius:0 0 0px 0px;"></div><div class="b" style="left:345px;bottom:62.0px;width:9px;height:16.2px;background:#e47a72;border-radius:0 0 0px 0px;"></div><div class="b" style="left:345px;bottom:62.0px;width:9px;height:3.5px;background:#2652a0;border-radius:0 0 0px 0px;"></div>
<div class="xl" style="left:229px;top:521px;font-size:7px;font-style:italic">Aoam 1</div>
<div class="xl" style="left:262px;top:521px;color:#b8bec8">Pasaaa</div>
<div class="xl" style="left:330px;top:521px">1.1:684</div>
<div class="a" style="left:230px;top:534.5px;width:5px;height:5px;background:#1f4a8a;border-radius:1px"></div>
<div class="xl" style="left:238.5px;top:533.5px;font-size:7.3px;color:#3a4558">eGal4</div>
<div class="a" style="left:271px;top:534.5px;width:5px;height:5px;background:#e58a90;border-radius:1px"></div>
<div class="xl" style="left:279.5px;top:533.5px;font-size:7.3px;color:#3a4558">Ccoaeelmuta</div>
<div class="card" style="left:376.5px;top:358.5px;width:154.5px;height:194.5px"></div>
<svg class="a" style="left:391px;top:369px" width="17" height="17" viewBox="0 0 17 17"><defs><clipPath id="c5"><circle cx="8.5" cy="8.5" r="8.5"/></clipPath></defs><g clip-path="url(#c5)"><rect width="17" height="17" fill="#253045"/><ellipse cx="8.5" cy="8" rx="3" ry="3.8" fill="#b88a68"/><path d="M3 17 Q4 12 8.5 12 Q13 12 14 17Z" fill="#6a5a50"/></g></svg>
<div class="t ttl" style="left:413px;top:372px;font-size:11.3px">Future Angieta</div>
<div class="a" style="left:501px;top:372px;width:9px;height:6px;background:#93b043;border-radius:3px"></div>
<div class="pill" style="left:391px;top:394px;width:66px;height:27px"></div>
<div class="t" style="left:400px;top:399px;font-size:17px;font-weight:bold;color:#1a3a6e">659</div>
<div class="t" style="left:431px;top:404px;font-size:9px;color:#1a3a6e;-webkit-text-stroke:.3px #1a3a6e">Gu</div>
<div class="t" style="left:506px;top:401px;font-size:8px;color:#c0c6ce">&#x25a1;</div>
<div class="b" style="left:391.4px;bottom:62.0px;width:9px;height:34.5px;background:#93c1e5;border-radius:4.5px 4.5px 0px 0px;"></div><div class="b" style="left:391.4px;bottom:62.0px;width:9px;height:11.5px;background:#e47a72;border-radius:0 0 0px 0px;"></div><div class="b" style="left:391.4px;bottom:62.0px;width:9px;height:7.1px;background:#2652a0;border-radius:0 0 0px 0px;"></div>
<div class="b" style="left:407px;bottom:62.0px;width:9px;height:69.9px;background:#93c1e5;border-radius:4.5px 4.5px 0px 0px;"></div><div class="b" style="left:407px;bottom:62.0px;width:9px;height:23.5px;background:#f2aa62;border-radius:0 0 0px 0px;"></div><div class="b" style="left:407px;bottom:62.0px;width:9px;height:18.8px;background:#2652a0;border-radius:0 0 0px 0px;"></div><div class="b" style="left:407px;bottom:62.0px;width:9px;height:3.5px;background:#e47a72;border-radius:0 0 0px 0px;"></div>
<div class="b" style="left:422.4px;bottom:62.0px;width:9px;height:48.0px;background:#93c1e5;border-radius:4.5px 4.5px 0px 0px;"></div><div class="b" style="left:422.4px;bottom:62.0px;width:9px;height:28.3px;background:#f2aa62;border-radius:0 0 0px 0px;"></div><div class="b" style="left:422.4px;bottom:62.0px;width:9px;height:23.5px;background:#93c1e5;border-radius:0 0 0px 0px;"></div><div class="b" style="left:422.4px;bottom:62.0px;width:9px;height:16.2px;background:#e47a72;border-radius:0 0 0px 0px;"></div><div class="b" style="left:422.4px;bottom:62.0px;width:9px;height:7.1px;background:#2652a0;border-radius:0 0 0px 0px;"></div>
<div class="b" style="left:438.8px;bottom:62.0px;width:9px;height:40.0px;background:#93c1e5;border-radius:4.5px 4.5px 0px 0px;"></div><div class="b" style="left:438.8px;bottom:62.0px;width:9px;height:18.8px;background:#f2aa62;border-radius:0 0 0px 0px;"></div><div class="b" style="left:438.8px;bottom:62.0px;width:9px;height:13.7px;background:#2652a0;border-radius:0 0 0px 0px;"></div>
<div class="b" style="left:454.5px;bottom:62.0px;width:9px;height:60.8px;background:#93c1e5;border-radius:4.5px 4.5px 0px 0px;"></div><div class="b" style="left:454.5px;bottom:62.0px;width:9px;height:10.8px;background:#f2aa62;border-radius:0 0 0px 0px;"></div><div class="b" style="left:454.5px;bottom:62.0px;width:9px;height:5.3px;background:#2652a0;border-radius:0 0 0px 0px;"></div>
<div class="b" style="left:468px;bottom:62.0px;width:9px;height:89.2px;background:#93c1e5;border-radius:4.5px 4.5px 0px 0px;"></div><div class="b" style="left:468px;bottom:62.0px;width:9px;height:80.1px;background:#f2aa62;border-radius:0 0 0px 0px;"></div><div class="b" style="left:468px;bottom:62.0px;width:9px;height:21.7px;background:#e47a72;border-radius:0 0 0px 0px;"></div><div class="b" style="left:468px;bottom:62.0px;width:9px;height:14.4px;background:#2652a0;border-radius:0 0 0px 0px;"></div>
<div class="b" style="left:485px;bottom:62.0px;width:9px;height:40.7px;background:#93c1e5;border-radius:4.5px 4.5px 0px 0px;"></div><div class="b" style="left:485px;bottom:62.0px;width:9px;height:13.7px;background:#f2aa62;border-radius:0 0 0px 0px;"></div><div class="b" style="left:485px;bottom:62.0px;width:9px;height:7.9px;background:#2652a0;border-radius:0 0 0px 0px;"></div>
<div class="b" style="left:498.3px;bottom:62.0px;width:9px;height:40.0px;background:#93c1e5;border-radius:4.5px 4.5px 0px 0px;"></div><div class="b" style="left:498.3px;bottom:62.0px;width:9px;height:32.7px;background:#f2aa62;border-radius:0 0 0px 0px;"></div><div class="b" style="left:498.3px;bottom:62.0px;width:9px;height:25.4px;background:#2652a0;border-radius:0 0 0px 0px;"></div><div class="b" style="left:498.3px;bottom:62.0px;width:9px;height:10.8px;background:#e47a72;border-radius:0 0 0px 0px;"></div>
<div class="b" style="left:513.6px;bottom:62.0px;width:9px;height:78.3px;background:#93c1e5;border-radius:4.5px 4.5px 0px 0px;"></div><div class="b" style="left:513.6px;bottom:62.0px;width:9px;height:25.4px;background:#f2aa62;border-radius:0 0 0px 0px;"></div><div class="b" style="left:513.6px;bottom:62.0px;width:9px;height:18.1px;background:#93c1e5;border-radius:0 0 0px 0px;"></div><div class="b" style="left:513.6px;bottom:62.0px;width:9px;height:3.5px;background:#e47a72;border-radius:0 0 0px 0px;"></div>
<div class="xl" style="left:391px;top:521px;font-size:7px">Aaoth/ee</div>
<div class="xl" style="left:428px;top:521px;color:#b8bec8">Tlausd</div>
<div class="xl" style="left:508px;top:521px">1 mib</div>
<div class="a" style="left:391px;top:534.5px;width:5px;height:5px;background:#e07a80;border-radius:1px"></div>
<div class="xl" style="left:399.5px;top:533.5px;font-size:7.3px;color:#3a4558">Lacal</div>
<div class="a" style="left:431px;top:534.5px;width:5px;height:5px;background:#a8cdea;border-radius:1px"></div>
<div class="xl" style="left:439.5px;top:533.5px;font-size:7.3px;color:#3a4558">Daad Bitelic</div>
<div class="card" style="left:542.3px;top:358.5px;width:153.2px;height:194.5px"></div>
<div class="ic" style="left:557px;top:369px;width:17px;height:17px;background:#1e3f78"></div>
<div class="t" style="left:561px;top:373px;font-size:8px;color:#fff">&#x2605;</div>
<div class="t ttl" style="left:578px;top:372px;font-size:11px">Back Suptinge</div>
<div class="ic" style="left:666px;top:372px;width:7px;height:7px;background:#f2ecd0"></div>
<div class="pill" style="left:557px;top:394px;width:63px;height:27px"></div>
<div class="t" style="left:566px;top:399px;font-size:17px;font-weight:bold;color:#1a3a6e">810</div>
<div class="t" style="left:597px;top:404px;font-size:9px;color:#1a3a6e">Bm</div>
<div class="t" style="left:670px;top:401px;font-size:8px;color:#c0c6ce">&#x25a1;</div>
<div class="b" style="left:560.8px;bottom:62.0px;width:9px;height:73.9px;background:#93c1e5;border-radius:4.5px 4.5px 0px 0px;"></div><div class="b" style="left:560.8px;bottom:62.0px;width:9px;height:43.6px;background:#e47a72;border-radius:0 0 0px 0px;"></div><div class="b" style="left:560.8px;bottom:62.0px;width:9px;height:1.7px;background:#2652a0;border-radius:0 0 0px 0px;"></div>
<div class="b" style="left:574.7px;bottom:62.0px;width:9px;height:57.1px;background:#93c1e5;border-radius:4.5px 4.5px 0px 0px;"></div><div class="b" style="left:574.7px;bottom:62.0px;width:9px;height:3.5px;background:#2652a0;border-radius:0 0 0px 0px;"></div>
<div class="b" style="left:588.5px;bottom:62.0px;width:9px;height:83.0px;background:#93c1e5;border-radius:4.5px 4.5px 0px 0px;"></div><div class="b" style="left:588.5px;bottom:62.0px;width:9px;height:36.3px;background:#f2aa62;border-radius:0 0 0px 0px;"></div><div class="b" style="left:588.5px;bottom:62.0px;width:9px;height:32.7px;background:#e47a72;border-radius:0 0 0px 0px;"></div><div class="b" style="left:588.5px;bottom:62.0px;width:9px;height:21.7px;background:#2652a0;border-radius:0 0 0px 0px;"></div><div class="b" style="left:588.5px;bottom:62.0px;width:9px;height:10.8px;background:#93c1e5;border-radius:0 0 0px 0px;"></div><div class="b" style="left:588.5px;bottom:62.0px;width:9px;height:3.5px;background:#e47a72;border-radius:0 0 0px 0px;"></div>
<div class="b" style="left:602.8px;bottom:62.0px;width:9px;height:76.4px;background:#93c1e5;border-radius:4.5px 4.5px 0px 0px;"></div><div class="b" style="left:602.8px;bottom:62.0px;width:9px;height:8.9px;background:#f2aa62;border-radius:0 0 0px 0px;"></div><div class="b" style="left:602.8px;bottom:62.0px;width:9px;height:6.4px;background:#2652a0;border-radius:0 0 0px 0px;"></div>
<div class="b" style="left:615.9px;bottom:62.0px;width:9px;height:62.6px;background:#93c1e5;border-radius:4.5px 4.5px 0px 0px;"></div><div class="b" style="left:615.9px;bottom:62.0px;width:9px;height:18.1px;background:#f2aa62;border-radius:0 0 0px 0px;"></div><div class="b" style="left:615.9px;bottom:62.0px;width:9px;height:13.7px;background:#e47a72;border-radius:0 0 0px 0px;"></div><div class="b" style="left:615.9px;bottom:62.0px;width:9px;height:7.1px;background:#2652a0;border-radius:0 0 0px 0px;"></div>
<div class="b" style="left:630.5px;bottom:62.0px;width:9px;height:45.4px;background:#93c1e5;border-radius:4.5px 4.5px 0px 0px;"></div><div class="b" style="left:630.5px;bottom:62.0px;width:9px;height:31.9px;background:#f2aa62;border-radius:0 0 0px 0px;"></div><div class="b" style="left:630.5px;bottom:62.0px;width:9px;height:23.5px;background:#e47a72;border-radius:0 0 0px 0px;"></div>
<div class="b" style="left:645px;bottom:62.0px;width:9px;height:41.1px;background:#93c1e5;border-radius:4.5px 4.5px 0px 0px;"></div><div class="b" style="left:645px;bottom:62.0px;width:9px;height:8.9px;background:#f2aa62;border-radius:0 0 0px 0px;"></div><div class="b" style="left:645px;bottom:62.0px;width:9px;height:5.3px;background:#e47a72;border-radius:0 0 0px 0px;"></div><div class="b" style="left:645px;bottom:62.0px;width:9px;height:3.5px;background:#2652a0;border-radius:0 0 0px 0px;"></div>
<div class="b" style="left:659.7px;bottom:62.0px;width:9px;height:83.0px;background:#93c1e5;border-radius:4.5px 4.5px 0px 0px;"></div><div class="b" style="left:659.7px;bottom:62.0px;width:9px;height:29.0px;background:#f2aa62;border-radius:0 0 0px 0px;"></div><div class="b" style="left:659.7px;bottom:62.0px;width:9px;height:19.9px;background:#2652a0;border-radius:0 0 0px 0px;"></div>
<div class="b" style="left:673.2px;bottom:62.0px;width:9px;height:72.8px;background:#93c1e5;border-radius:4.5px 4.5px 0px 0px;"></div><div class="b" style="left:673.2px;bottom:62.0px;width:9px;height:36.3px;background:#f2aa62;border-radius:0 0 0px 0px;"></div><div class="b" style="left:673.2px;bottom:62.0px;width:9px;height:32.7px;background:#e47a72;border-radius:0 0 0px 0px;"></div><div class="b" style="left:673.2px;bottom:62.0px;width:9px;height:7.1px;background:#2652a0;border-radius:0 0 0px 0px;"></div>
<div class="xl" style="left:559.5px;top:521px;font-size:7px">Awatsis</div>
<div class="xl" style="left:593.5px;top:521px;font-size:7px;color:#b8bec8">Latrasal</div>
<div class="xl" style="left:660px;top:521px;font-size:7.5px">1.0 BB</div>
<div class="a" style="left:560px;top:534.5px;width:5px;height:5px;background:#1f4a8a;border-radius:1px"></div>
<div class="xl" style="left:568.5px;top:533.5px;font-size:7.3px;color:#3a4558">GCGIIHBI</div>
<div class="a" style="left:604px;top:534.5px;width:5px;height:5px;background:#1e3a6e;border-radius:1px"></div>
<div class="xl" style="left:612.5px;top:533.5px;font-size:7.3px;color:#3a4558">Laacdeseon</div>
<div class="card" style="left:706.5px;top:358.5px;width:290.5px;height:194.5px"></div>
<div class="ic" style="left:721px;top:369px;width:17px;height:17px;background:#1e3f78"></div>
<div class="t" style="left:726px;top:373px;font-size:8px;color:#dde">&#x25B2;</div>
<div class="t ttl" style="left:744px;top:372px;font-size:11px">Tonal Eunes</div>
<div class="a" style="left:817px;top:373px;width:9px;height:6px;background:#93b043;border-radius:1px"></div>
<div class="t sm" style="left:941px;top:371px">Wlat<span>3 3 3</span></div>
<div class="sub" style="left:962px;top:379.5px">ehs w.cssf lo</div>
<div class="pill" style="left:721px;top:394px;width:72px;height:27px"></div>
<div class="t" style="left:731px;top:399px;font-size:17px;font-weight:bold;color:#e0653e;letter-spacing:.8px">272</div>
<div class="t" style="left:762px;top:404px;font-size:9px;color:#d9553a">Gmd</div>
<div class="t" style="left:968px;top:401px;font-size:8px;color:#c0c6ce">&#x25a1;&#x25a1;</div>
<div class="yl" style="left:716px;width:17px;text-align:right;top:430.9109813936519px">200</div>
<div class="yl" style="left:716px;width:17px;text-align:right;top:442.58555271798616px">250</div>
<div class="yl" style="left:716px;width:17px;text-align:right;top:453.53046333454944px">150</div>
<div class="yl" style="left:716px;width:17px;text-align:right;top:464.4753739511127px">150</div>
<div class="yl" style="left:716px;width:17px;text-align:right;top:475.78511492156144px">100</div>
<div class="yl" style="left:716px;width:17px;text-align:right;top:486.7300255381248px">100</div>
<div class="yl" style="left:716px;width:17px;text-align:right;top:497.67493615468806px">50</div>
<div class="yl" style="left:716px;width:17px;text-align:right;top:509.34950747902224px">0</div>
<div class="yl" style="left:716px;width:17px;text-align:right;top:520.659248449471px">0</div>
<div class="gl" style="left:745px;top:434px;width:225px"></div>
<div class="gl" style="left:745px;top:446px;width:225px"></div>
<div class="gl" style="left:745px;top:457px;width:225px"></div>
<div class="gl" style="left:745px;top:468px;width:225px"></div>
<div class="gl" style="left:745px;top:479px;width:225px"></div>
<div class="gl" style="left:745px;top:490px;width:225px"></div>
<div class="gl" style="left:745px;top:501px;width:225px"></div>
<div class="gl" style="left:745px;top:512px;width:225px"></div>
<div class="b" style="left:749.0px;bottom:51.7px;width:8.7px;height:60.1px;background:#f2aa62;border-radius:4px 4px 2px 2px;"></div><div class="b" style="left:749.0px;bottom:51.7px;width:8.7px;height:26.6px;background:#2652a0;border-radius:0 0 2px 2px;"></div>
<div class="b" style="left:761.88px;bottom:51.7px;width:8.7px;height:44.8px;background:#f2aa62;border-radius:4px 4px 2px 2px;"></div><div class="b" style="left:761.88px;bottom:51.7px;width:8.7px;height:38.6px;background:#e47a72;border-radius:0 0 2px 2px;"></div><div class="b" style="left:761.88px;bottom:51.7px;width:8.7px;height:35.7px;background:#2652a0;border-radius:0 0 2px 2px;"></div>
<div class="b" style="left:774.76px;bottom:51.7px;width:8.7px;height:74.0px;background:#f2aa62;border-radius:4px 4px 2px 2px;"></div><div class="b" style="left:774.76px;bottom:51.7px;width:8.7px;height:66.7px;background:#e47a72;border-radius:0 0 2px 2px;"></div><div class="b" style="left:774.76px;bottom:51.7px;width:8.7px;height:48.5px;background:#2652a0;border-radius:0 0 2px 2px;"></div>
<div class="b" style="left:787.64px;bottom:51.7px;width:8.7px;height:94.1px;background:#2652a0;border-radius:4px 4px 2px 2px;"></div>
<div class="b" style="left:800.52px;bottom:51.7px;width:8.7px;height:53.9px;background:#f2aa62;border-radius:4px 4px 2px 2px;"></div><div class="b" style="left:800.52px;bottom:51.7px;width:8.7px;height:46.7px;background:#e47a72;border-radius:0 0 2px 2px;"></div><div class="b" style="left:800.52px;bottom:51.7px;width:8.7px;height:44.8px;background:#2652a0;border-radius:0 0 2px 2px;"></div>
<div class="b" style="left:813.4px;bottom:51.7px;width:8.7px;height:31.0px;background:#f2aa62;border-radius:4px 4px 2px 2px;"></div><div class="b" style="left:813.4px;bottom:51.7px;width:8.7px;height:28.4px;background:#e47a72;border-radius:0 0 2px 2px;"></div><div class="b" style="left:813.4px;bottom:51.7px;width:8.7px;height:23.0px;background:#2652a0;border-radius:0 0 2px 2px;"></div>
<div class="b" style="left:826.28px;bottom:51.7px;width:8.7px;height:29.2px;background:#f2aa62;border-radius:4px 4px 2px 2px;"></div><div class="b" style="left:826.28px;bottom:51.7px;width:8.7px;height:18.2px;background:#2652a0;border-radius:0 0 2px 2px;"></div>
<div class="b" style="left:839.16px;bottom:51.7px;width:8.7px;height:55.4px;background:#93c1e5;border-radius:4px 4px 2px 2px;"></div><div class="b" style="left:839.16px;bottom:51.7px;width:8.7px;height:50.3px;background:#e47a72;border-radius:0 0 2px 2px;"></div><div class="b" style="left:839.16px;bottom:51.7px;width:8.7px;height:38.6px;background:#2652a0;border-radius:0 0 2px 2px;"></div>
<div class="b" style="left:852.04px;bottom:51.7px;width:8.7px;height:58.3px;background:#f2aa62;border-radius:4px 4px 2px 2px;"></div><div class="b" style="left:852.04px;bottom:51.7px;width:8.7px;height:52.1px;background:#e47a72;border-radius:0 0 2px 2px;"></div><div class="b" style="left:852.04px;bottom:51.7px;width:8.7px;height:41.2px;background:#2652a0;border-radius:0 0 2px 2px;"></div>
<div class="b" style="left:864.92px;bottom:51.7px;width:8.7px;height:55.8px;background:#f2aa62;border-radius:4px 4px 2px 2px;"></div><div class="b" style="left:864.92px;bottom:51.7px;width:8.7px;height:35.7px;background:#2652a0;border-radius:0 0 2px 2px;"></div>
<div class="b" style="left:877.8px;bottom:51.7px;width:8.7px;height:44.8px;background:#f2aa62;border-radius:4px 4px 2px 2px;"></div><div class="b" style="left:877.8px;bottom:51.7px;width:8.7px;height:29.2px;background:#2652a0;border-radius:0 0 2px 2px;"></div>
<div class="b" style="left:890.6800000000001px;bottom:51.7px;width:8.7px;height:72.2px;background:#2652a0;border-radius:4px 4px 2px 2px;"></div><div class="b" style="left:890.6800000000001px;bottom:51.7px;width:8.7px;height:69.3px;background:#e47a72;border-radius:0 0 2px 2px;"></div><div class="b" style="left:890.6800000000001px;bottom:51.7px;width:8.7px;height:55.8px;background:#2652a0;border-radius:0 0 2px 2px;"></div>
<div class="b" style="left:903.56px;bottom:51.7px;width:8.7px;height:63.8px;background:#f2aa62;border-radius:4px 4px 2px 2px;"></div><div class="b" style="left:903.56px;bottom:51.7px;width:8.7px;height:40.1px;background:#2652a0;border-radius:0 0 2px 2px;"></div>
<div class="b" style="left:916.44px;bottom:51.7px;width:8.7px;height:38.6px;background:#f2aa62;border-radius:4px 4px 2px 2px;"></div><div class="b" style="left:916.44px;bottom:51.7px;width:8.7px;height:34.6px;background:#e47a72;border-radius:0 0 2px 2px;"></div><div class="b" style="left:916.44px;bottom:51.7px;width:8.7px;height:26.6px;background:#2652a0;border-radius:0 0 2px 2px;"></div>
<div class="b" style="left:929.32px;bottom:51.7px;width:8.7px;height:84.9px;background:#f2aa62;border-radius:4px 4px 2px 2px;"></div><div class="b" style="left:929.32px;bottom:51.7px;width:8.7px;height:30.2px;background:#e47a72;border-radius:0 0 2px 2px;"></div>
<div class="b" style="left:942.2px;bottom:51.7px;width:8.7px;height:72.2px;background:#f2aa62;border-radius:4px 4px 2px 2px;"></div><div class="b" style="left:942.2px;bottom:51.7px;width:8.7px;height:53.9px;background:#e47a72;border-radius:0 0 2px 2px;"></div><div class="b" style="left:942.2px;bottom:51.7px;width:8.7px;height:45.9px;background:#2652a0;border-radius:0 0 2px 2px;"></div>
<div class="b" style="left:955.08px;bottom:51.7px;width:8.7px;height:37.5px;background:#93c1e5;border-radius:4px 4px 2px 2px;"></div><div class="b" style="left:955.08px;bottom:51.7px;width:8.7px;height:33.9px;background:#f2aa62;border-radius:0 0 2px 2px;"></div><div class="b" style="left:955.08px;bottom:51.7px;width:8.7px;height:28.4px;background:#2652a0;border-radius:0 0 2px 2px;"></div>
<div class="b" style="left:967.96px;bottom:51.7px;width:8.7px;height:60.5px;background:#f2aa62;border-radius:4px 4px 2px 2px;"></div><div class="b" style="left:967.96px;bottom:51.7px;width:8.7px;height:25.5px;background:#2652a0;border-radius:0 0 2px 2px;"></div>
<div class="b" style="left:926px;bottom:51.7px;width:8px;height:21.1px;background:#d88a8a;border-radius:2px 2px 0px 0px;opacity:.7;"></div>
<div class="b" style="left:935px;bottom:51.7px;width:8px;height:20.0px;background:#2652a0;border-radius:3px 3px 0px 0px;"></div>
<div class="xl" style="left:737px;top:533px">GBB 2</div>
<div class="xl" style="left:800px;top:533px">SteB2</div>
<div class="xl" style="left:858px;top:533px">1h/B0</div>
<div class="xl" style="left:918px;top:533px">JBB 20</div>
<div class="card" style="left:215px;top:568px;width:782px;height:40px;background:#eff0f2"></div>
</body></html>
